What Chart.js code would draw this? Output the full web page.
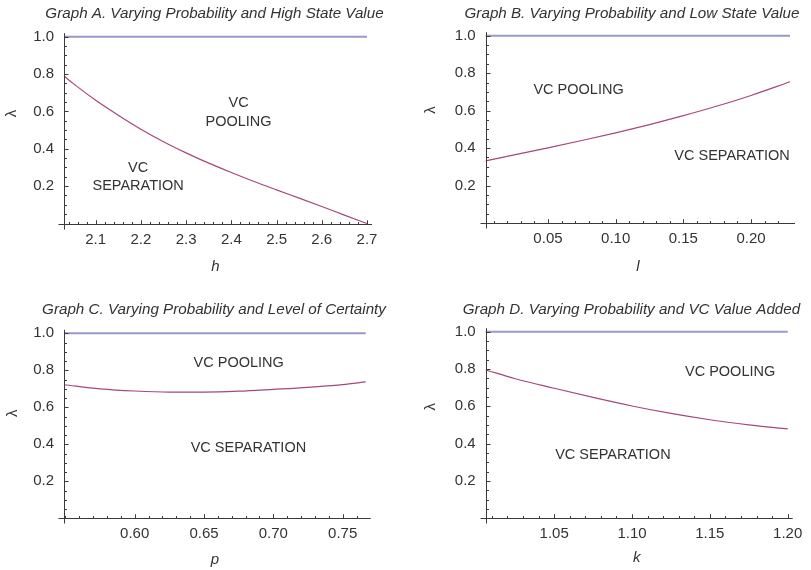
<!DOCTYPE html>
<html><head><meta charset="utf-8">
<script src="https://cdn.jsdelivr.net/npm/chart.js@4.4.1/dist/chart.umd.min.js"></script>
<style>
html,body{margin:0;padding:0;background:#fff;}
body{width:811px;height:570px;position:relative;overflow:hidden;}
.p{position:absolute;}
canvas{display:block;}
</style></head><body>
<div class="p" style="left:0px;top:0px"><canvas id="cA" width="405" height="285"></canvas></div>
<div class="p" style="left:405px;top:0px"><canvas id="cB" width="406" height="285"></canvas></div>
<div class="p" style="left:0px;top:285px"><canvas id="cC" width="405" height="285"></canvas></div>
<div class="p" style="left:405px;top:285px"><canvas id="cD" width="406" height="285"></canvas></div>
<script>
// ---------- data ----------
const hA   = [2.03, 2.05, 2.1, 2.15, 2.2, 2.25, 2.3, 2.35, 2.4, 2.45, 2.5, 2.55, 2.6, 2.65, 2.7];
const lamA = [0.79, 0.75, 0.66, 0.58, 0.505, 0.438, 0.378, 0.323, 0.273, 0.225, 0.18, 0.136, 0.091, 0.045, 0.0];
const upperA = [1.0, 1.0];

const lB   = [0.004, 0.025, 0.05, 0.075, 0.10, 0.125, 0.15, 0.175, 0.20, 0.2288];
const lamB = [0.332, 0.3635, 0.4015, 0.4405, 0.4815, 0.5255, 0.573, 0.6245, 0.681, 0.754];
const upperB = [1.0, 1.0];

const pC   = [0.549, 0.575, 0.60, 0.625, 0.65, 0.675, 0.70, 0.725, 0.75, 0.7666];
const lamC = [0.722, 0.700, 0.688, 0.682, 0.682, 0.687, 0.697, 0.708, 0.723, 0.737];
const upperC = [1.0, 1.0];

const kD   = [1.006, 1.025, 1.05, 1.075, 1.10, 1.125, 1.15, 1.175, 1.20];
const lamD = [0.795, 0.748, 0.697, 0.648, 0.602, 0.562, 0.528, 0.501, 0.479];
const upperD = [1.0, 1.0];

const yTickVals = [0.2, 0.4, 0.6, 0.8, 1.0];
const xTicksA = [2.1, 2.2, 2.3, 2.4, 2.5, 2.6, 2.7];
const xTicksB = [0.05, 0.10, 0.15, 0.20];
const xTicksC = [0.60, 0.65, 0.70, 0.75];
const xTicksD = [1.05, 1.10, 1.15, 1.20];

const titles = [
  'Graph A. Varying Probability and High State Value',
  'Graph B. Varying Probability and Low State Value',
  'Graph C. Varying Probability and Level of Certainty',
  'Graph D. Varying Probability and VC Value Added'
];
const xTitles = ['h', 'l', 'p', 'k'];
const yTitle = 'λ';

// ---------- style / layout ----------
const FONT = '"Liberation Sans", Arial, Helvetica, sans-serif';
const TEXT = '#333333';
const AXIS = '#3a3a3a';
const UPPER_COLOR = '#9898cc';
const CURVE_COLOR = '#a4487c';

const panels = [
  { id:'cA', xs:hA, ys:lamA, up:upperA, xTicks:xTicksA, dec:1, minor:0.02, title:titles[0], xTitle:xTitles[0],
    g:{ yW:64, right:38, top:36.7, xH:52.2, bottom:9.3, lam:[12.3,113.5], ttl:[214.5,13.3] },
    labels:[ {t:['VC','POOLING'], x:2.416, y:0.594}, {t:['VC','SEPARATION'], x:2.194, y:0.25} ] },
  { id:'cB', xs:lB, ys:lamB, up:upperB, xTicks:xTicksB, dec:2, minor:0.01, title:titles[1], xTitle:xTitles[1],
    g:{ yW:80.7, right:21, top:35.7, xH:52.7, bottom:9.3, lam:[26,110], ttl:[227,13.3] },
    labels:[ {t:['VC POOLING'], x:0.0726, y:0.71}, {t:['VC SEPARATION'], x:0.186, y:0.359} ] },
  { id:'cC', xs:pC, ys:lamC, up:upperC, xTicks:xTicksC, dec:2, minor:0.01, title:titles[2], xTitle:xTitles[2],
    g:{ yW:64, right:39.3, top:48.3, xH:50.7, bottom:1, lam:[13.3,128.3], ttl:[214,25] },
    labels:[ {t:['VC POOLING'], x:0.675, y:0.841}, {t:['VC SEPARATION'], x:0.682, y:0.378} ] },
  { id:'cD', xs:kD, ys:lamD, up:upperD, xTicks:xTicksD, dec:2, minor:0.01, title:titles[3], xTitle:xTitles[3],
    g:{ yW:80.7, right:23.3, top:46.7, xH:49, bottom:2.7, lam:[26,121.7], ttl:[226.5,25] },
    labels:[ {t:['VC POOLING'], x:1.163, y:0.786}, {t:['VC SEPARATION'], x:1.0877, y:0.339} ] }
];

const mathAxes = {
  id: 'mathAxes',
  afterDatasetsDraw(chart) {
    const cfg = chart.options.plugins.mathAxes;
    const xs = chart.scales.x, ys = chart.scales.y, ctx = chart.ctx;
    const x0 = Math.round(xs.getPixelForValue(xs.min)) + 0.5;
    const y0 = Math.round(ys.getPixelForValue(0)) + 0.5;
    ctx.save();
    ctx.strokeStyle = AXIS; ctx.lineWidth = 1;
    ctx.beginPath();
    ctx.moveTo(x0 - 6, y0); ctx.lineTo(xs.right + 5, y0);
    ctx.moveTo(x0, y0 + 5); ctx.lineTo(x0, ys.top - 3.5);
    ctx.stroke();
    const isMajor = (v, arr) => arr.some(a => Math.abs(a - v) < 1e-6);
    ctx.beginPath();
    const st = cfg.minor;
    for (let i = Math.ceil(xs.min / st - 1e-6); i * st <= xs.max + 1e-6; i++) {
      const v = i * st;
      const px = Math.round(xs.getPixelForValue(v)) + 0.5;
      const len = isMajor(v, cfg.xTicks) ? 4 : 2.5;
      ctx.moveTo(px, y0); ctx.lineTo(px, y0 - len);
    }
    for (const v of cfg.xTicks) {
      const px = Math.round(xs.getPixelForValue(v)) + 0.5;
      ctx.moveTo(px, y0); ctx.lineTo(px, y0 - 4);
    }
    for (let i = 1; i <= 20; i++) {
      const v = i * 0.05;
      const py = Math.round(ys.getPixelForValue(v)) + 0.5;
      const len = isMajor(v, yTickVals) ? 4 : 2.5;
      ctx.moveTo(x0, py); ctx.lineTo(x0 + len, py);
    }
    ctx.stroke();
    ctx.fillStyle = TEXT;
    ctx.textAlign = 'center'; ctx.textBaseline = 'middle';
    // chart title
    ctx.font = 'italic 15.2px ' + FONT;
    ctx.fillText(cfg.title, cfg.ttl[0], cfg.ttl[1]);
    // region labels
    ctx.font = '14.5px ' + FONT;
    for (const L of cfg.labels) {
      const cx = xs.getPixelForValue(L.x), cy = ys.getPixelForValue(L.y);
      const n = L.t.length, lh = 18.4;
      L.t.forEach((s, k) => ctx.fillText(s, cx, cy + (k - (n - 1) / 2) * lh));
    }
    // y axis title
    ctx.translate(cfg.lam[0], cfg.lam[1]);
    ctx.rotate(-Math.PI / 2);
    ctx.font = '15px ' + FONT;
    ctx.fillText(yTitle, 0, 0);
    ctx.restore();
  }
};

for (const P of panels) {
  const xMin = P.xs[0], xMax = P.xs[P.xs.length - 1];
  new Chart(document.getElementById(P.id), {
    type: 'scatter',
    data: {
      datasets: [
        { data: P.up.map((v, i) => ({ x: i === 0 ? xMin : xMax, y: v })),
          showLine: true, borderColor: UPPER_COLOR, borderWidth: 2, pointRadius: 0, clip: false },
        { data: P.xs.map((v, i) => ({ x: v, y: P.ys[i] })),
          showLine: true, borderColor: CURVE_COLOR, borderWidth: 1.2, pointRadius: 0,
          cubicInterpolationMode: 'monotone', clip: false }
      ]
    },
    options: {
      responsive: false, animation: false, devicePixelRatio: 1,
      layout: { padding: { left: 0, right: P.g.right, top: P.g.top, bottom: P.g.bottom } },
      plugins: {
        legend: { display: false }, tooltip: { enabled: false }, title: { display: false },
        mathAxes: { xTicks: P.xTicks, minor: P.minor, labels: P.labels, lam: P.g.lam, title: P.title, ttl: P.g.ttl }
      },
      scales: {
        x: { type: 'linear', min: xMin, max: xMax,
          grid: { display: false, drawTicks: false }, border: { display: false },
          afterBuildTicks: s => { s.ticks = P.xTicks.map(v => ({ value: v })); },
          afterFit: s => { s.height = P.g.xH; },
          ticks: { color: TEXT, font: { family: FONT, size: 15 }, padding: 7, maxRotation: 0, autoSkip: false,
            callback: v => Number(v).toFixed(P.dec) },
          title: { display: true, text: P.xTitle, color: TEXT,
            font: { family: FONT, size: 15, style: 'italic' }, padding: { top: 0, bottom: 0 } } },
        y: { type: 'linear', min: 0, max: 1,
          grid: { display: false, drawTicks: false }, border: { display: false },
          afterBuildTicks: s => { s.ticks = yTickVals.map(v => ({ value: v })); },
          afterFit: s => { s.width = P.g.yW; },
          ticks: { color: TEXT, font: { family: FONT, size: 15 }, padding: 10,
            callback: v => Number(v).toFixed(1) } }
      }
    },
    plugins: [mathAxes]
  });
}
</script>
</body></html>
